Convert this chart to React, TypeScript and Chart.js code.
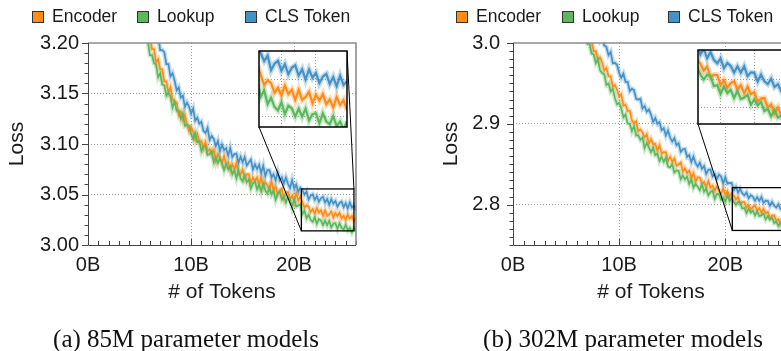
import React, { useEffect, useRef } from 'react';
import { Chart, registerables } from 'chart.js';

Chart.register(...registerables);

// Training progress, in billions of tokens seen
const tokensB = [
  5, 5.2, 5.4, 5.6, 5.8, 6, 6.2, 6.4, 6.6, 6.8,
  7, 7.2, 7.4, 7.6, 7.8, 8, 8.2, 8.4, 8.6, 8.8,
  9, 9.2, 9.4, 9.6, 9.8, 10, 10.2, 10.4, 10.6, 10.8,
  11, 11.2, 11.4, 11.6, 11.8, 12, 12.2, 12.4, 12.6, 12.8,
  13, 13.2, 13.4, 13.6, 13.8, 14, 14.2, 14.4, 14.6, 14.8,
  15, 15.2, 15.4, 15.6, 15.8, 16, 16.2, 16.4, 16.6, 16.8,
  17, 17.2, 17.4, 17.6, 17.8, 18, 18.2, 18.4, 18.6, 18.8,
  19, 19.2, 19.4, 19.6, 19.8, 20, 20.2, 20.4, 20.6, 20.8,
  21, 21.2, 21.4, 21.6, 21.8, 22, 22.2, 22.4, 22.6, 22.8,
  23, 23.2, 23.4, 23.6, 23.8, 24, 24.2, 24.4, 24.6, 24.8,
  25, 25.2, 25.4, 25.6, 25.8, 26,
];

// 85M parameter models: validation loss
const encoder85M = [
  3.238, 3.227, 3.227, 3.212, 3.211, 3.208, 3.194, 3.194, 3.181, 3.184,
  3.174, 3.174, 3.162, 3.162, 3.151, 3.156, 3.144, 3.142, 3.141, 3.129,
  3.132, 3.124, 3.129, 3.119, 3.113, 3.117, 3.112, 3.104, 3.110, 3.102,
  3.103, 3.095, 3.102, 3.093, 3.095, 3.090, 3.094, 3.083, 3.090, 3.086,
  3.081, 3.088, 3.079, 3.082, 3.074, 3.080, 3.075, 3.081, 3.070, 3.070,
  3.075, 3.066, 3.070, 3.070, 3.061, 3.067, 3.063, 3.067, 3.060, 3.067,
  3.057, 3.062, 3.059, 3.055, 3.063, 3.054, 3.058, 3.050, 3.054, 3.056,
  3.046, 3.052, 3.0524, 3.0456, 3.0488, 3.043, 3.0515, 3.044, 3.0483, 3.0423,
  3.037, 3.0395, 3.038, 3.0327, 3.0354, 3.0311, 3.0367, 3.032, 3.0343, 3.0288,
  3.0343, 3.0288, 3.0304, 3.0332, 3.027, 3.0317, 3.0285, 3.032, 3.0265, 3.029,
  3.0247, 3.0303, 3.026, 3.0287, 3.0233, 3.027,
];
const lookup85M = [
  3.220, 3.220, 3.206, 3.204, 3.202, 3.188, 3.188, 3.180, 3.179, 3.166,
  3.170, 3.159, 3.158, 3.148, 3.151, 3.147, 3.136, 3.142, 3.133, 3.133,
  3.125, 3.130, 3.118, 3.119, 3.118, 3.110, 3.105, 3.111, 3.102, 3.103,
  3.093, 3.098, 3.098, 3.089, 3.090, 3.093, 3.082, 3.087, 3.081, 3.086,
  3.081, 3.074, 3.080, 3.075, 3.078, 3.070, 3.074, 3.066, 3.074, 3.066,
  3.063, 3.069, 3.062, 3.065, 3.056, 3.061, 3.063, 3.055, 3.060, 3.053,
  3.061, 3.054, 3.051, 3.057, 3.050, 3.054, 3.045, 3.051, 3.053, 3.045,
  3.048, 3.042, 3.048, 3.045, 3.037, 3.045, 3.038, 3.039, 3.040, 3.0305,
  3.034, 3.0265, 3.030, 3.025, 3.023, 3.0275, 3.021, 3.0256, 3.0242, 3.0197,
  3.0241, 3.0196, 3.024, 3.0175, 3.021, 3.0215, 3.016, 3.0215, 3.017, 3.0155,
  3.020, 3.0145, 3.017, 3.0125, 3.017, 3.0135,
];
const cls85M = [
  3.258, 3.247, 3.248, 3.240, 3.227, 3.230, 3.218, 3.217, 3.206, 3.208,
  3.193, 3.193, 3.191, 3.179, 3.179, 3.167, 3.170, 3.163, 3.153, 3.156,
  3.146, 3.148, 3.137, 3.141, 3.137, 3.130, 3.135, 3.123, 3.126, 3.120,
  3.122, 3.113, 3.111, 3.116, 3.104, 3.108, 3.105, 3.098, 3.103, 3.093,
  3.0995, 3.094, 3.096, 3.0884, 3.096, 3.087, 3.090, 3.0906, 3.0814, 3.0873,
  3.0821, 3.087, 3.0788, 3.0816, 3.0846, 3.0748, 3.080, 3.0752, 3.0794, 3.0715,
  3.0784, 3.0683, 3.0742, 3.0742, 3.0671, 3.070, 3.064, 3.072, 3.064, 3.067,
  3.061, 3.0668, 3.0606, 3.0564, 3.0642, 3.056, 3.0599, 3.0527, 3.0566, 3.0543,
  3.050, 3.053, 3.045, 3.0486, 3.0501, 3.0447, 3.0483, 3.0428, 3.0463, 3.0477,
  3.0421, 3.0455, 3.0399, 3.0454, 3.0409, 3.0435, 3.038, 3.0415, 3.043, 3.0375,
  3.0413, 3.0362, 3.042, 3.037, 3.039, 3.034,
];

// 302M parameter models: validation loss
const encoder302M = [
  3.061, 3.051, 3.052, 3.046, 3.034, 3.038, 3.027, 3.026, 3.015, 3.018,
  3.004, 3.004, 3.002, 2.990, 2.990, 2.979, 2.982, 2.9755, 2.966, 2.969,
  2.9586, 2.9587, 2.9459, 2.948, 2.9422, 2.9334, 2.9365, 2.9227, 2.9238, 2.916,
  2.9161, 2.9043, 2.9004, 2.9032, 2.8906, 2.893, 2.8894, 2.8828, 2.8872, 2.8756,
  2.881, 2.8746, 2.8752, 2.8668, 2.8734, 2.863, 2.8648, 2.8646, 2.8544, 2.8592,
  2.853, 2.857, 2.848, 2.850, 2.852, 2.841, 2.845, 2.839, 2.842, 2.833,
  2.839, 2.8284, 2.8338, 2.8332, 2.8256, 2.828, 2.8216, 2.8292, 2.8208, 2.8234,
  2.817, 2.8228, 2.8166, 2.8124, 2.8202, 2.812, 2.8165, 2.8098, 2.8138, 2.8111,
  2.8062, 2.8092, 2.8013, 2.8032, 2.8031, 2.796, 2.7994, 2.7939, 2.7973, 2.7986,
  2.7927, 2.7958, 2.7899, 2.7948, 2.7893, 2.7908, 2.7841, 2.7864, 2.7866, 2.7799,
  2.782, 2.7755, 2.7798, 2.7742, 2.7756, 2.770,
];
const lookup302M = [
  3.059, 3.048, 3.049, 3.035, 3.035, 3.033, 3.019, 3.019, 3.006, 3.009,
  2.999, 2.999, 2.987, 2.986, 2.975, 2.980, 2.966, 2.963, 2.961, 2.948,
  2.950, 2.940, 2.943, 2.932, 2.924, 2.926, 2.919, 2.908, 2.9115, 2.9005,
  2.900, 2.891, 2.897, 2.8855, 2.886, 2.880, 2.883, 2.870, 2.8765, 2.871,
  2.865, 2.8706, 2.8612, 2.863, 2.854, 2.859, 2.853, 2.858, 2.847, 2.846,
  2.850, 2.8396, 2.8422, 2.8418, 2.8314, 2.836, 2.8312, 2.8344, 2.8256, 2.8318,
  2.821, 2.8256, 2.8222, 2.8178, 2.8254, 2.816, 2.8198, 2.8116, 2.8154, 2.8172,
  2.807, 2.813, 2.813, 2.806, 2.809, 2.803, 2.8116, 2.8042, 2.8087, 2.8034,
  2.7998, 2.8032, 2.8026, 2.7952, 2.7959, 2.7895, 2.7948, 2.7901, 2.7924, 2.7866,
  2.7917, 2.7858, 2.7869, 2.7889, 2.7818, 2.7856, 2.7813, 2.7838, 2.7773, 2.7788,
  2.7735, 2.778, 2.7725, 2.774, 2.7675, 2.770,
];
const cls302M = [
  3.089, 3.090, 3.078, 3.076, 3.075, 3.061, 3.062, 3.054, 3.052, 3.039,
  3.043, 3.032, 3.030, 3.019, 3.021, 3.015, 3.003, 3.007, 2.997, 2.995,
  2.985, 2.989, 2.975, 2.9755, 2.973, 2.963, 2.957, 2.962, 2.952, 2.952,
  2.9405, 2.9435, 2.9415, 2.931, 2.930, 2.931, 2.919, 2.922, 2.915, 2.9176,
  2.9115, 2.9024, 2.9072, 2.900, 2.902, 2.8922, 2.8944, 2.8856, 2.8918, 2.883,
  2.878, 2.8823, 2.8736, 2.8759, 2.8652, 2.8685, 2.8688, 2.8591, 2.8614, 2.8527,
  2.8595, 2.8513, 2.8471, 2.852, 2.8443, 2.8476, 2.8379, 2.8431, 2.8434, 2.8347,
  2.838, 2.8316, 2.8372, 2.8348, 2.8264, 2.834, 2.8259, 2.8268, 2.8266, 2.8177,
  2.8219, 2.815, 2.8195, 2.814, 2.8115, 2.815, 2.8079, 2.8117, 2.8096, 2.8048,
  2.8093, 2.8048, 2.8093, 2.8023, 2.805, 2.8047, 2.7985, 2.8035, 2.7985, 2.7965,
  2.8005, 2.7945, 2.7965, 2.7916, 2.7958, 2.792,
];

const seriesLabels = ['Encoder', 'Lookup', 'CLS Token'];
const seriesColors = ['#ff8c1a', '#5cb85c', '#4592c8'];

// Tick label values
const xLabelsB = [0, 10, 20];
const yLabels85M = [3.0, 3.05, 3.1, 3.15, 3.2];
const yLabels302M = [2.8, 2.9, 3.0];
const insetXGrid = [22, 24];
const insetYGrid85M = [3.02, 3.04];
const insetYGrid302M = [2.78, 2.8];

const SANS = '"Liberation Sans", Arial, Helvetica, sans-serif';
const SERIF = '"Liberation Serif", "Times New Roman", serif';
const INK = '#1a1a1a';
const GRID = '#9a9a9a';
const CLEAR = 'rgba(0,0,0,0)';
const TICK_SIZE = 20;
const TITLE_SIZE = 21;

// later datasets sit underneath: CLS on top, then Lookup, then Encoder
const drawOrder = [2, 1, 0];

type Rect = { left: number; top: number; width: number; height: number };
type Series = { label: string; color: string; values: number[] };
type Panel = {
  pageLeft: number;
  canvasWidth: number;
  canvasHeight: number;
  plotLeft: number;
  plotRight: number;
  plotTop: number;
  plotBottom: number;
  yMin: number;
  yMax: number;
  yLabels: number[];
  yDecimals: number;
  yTickPad: number;
  yTitlePad: number;
  zoom: { x0: number; x1: number; y0: number; y1: number };
  inset: Rect;
  insetYGrid: number[];
  legendBoxes: number[];
  caption: string;
  captionCenter: number;
  series: Series[];
};

const isIn = (list: number[], v: number) => list.some((m) => Math.abs(m - v) < 1e-6);

const withAlpha = (hex: string, a: number) => {
  const n = parseInt(hex.slice(1), 16);
  return `rgba(${(n >> 16) & 255},${(n >> 8) & 255},${n & 255},${a})`;
};

const makeSeries = (values: number[][]): Series[] =>
  seriesLabels.map((label, k) => ({ label, color: seriesColors[k], values: values[k] }));

const panels: Panel[] = [
  {
    pageLeft: 0,
    canvasWidth: 390,
    canvasHeight: 351,
    plotLeft: 88,
    plotRight: 356,
    plotTop: 43,
    plotBottom: 245,
    yMin: 3.0,
    yMax: 3.2,
    yLabels: yLabels85M,
    yDecimals: 2,
    yTickPad: 9,
    yTitlePad: 4.9,
    zoom: { x0: 20.7, x1: 25.8, y0: 3.014, y1: 3.0555 },
    inset: { left: 259, top: 51, width: 88, height: 76 },
    insetYGrid: insetYGrid85M,
    legendBoxes: [32, 137, 245],
    caption: '(a) 85M parameter models',
    captionCenter: 186,
    series: makeSeries([encoder85M, lookup85M, cls85M]),
  },
  {
    pageLeft: 390,
    canvasWidth: 440,
    canvasHeight: 351,
    plotLeft: 123,
    plotRight: 399,
    plotTop: 43,
    plotBottom: 245,
    yMin: 2.75,
    yMax: 3.0,
    yLabels: yLabels302M,
    yDecimals: 1,
    yTickPad: 13,
    yTitlePad: 48.9,
    zoom: { x0: 20.66, x1: 26, y0: 2.768, y1: 2.821 },
    inset: { left: 698, top: 50, width: 90, height: 74 },
    insetYGrid: insetYGrid302M,
    legendBoxes: [456, 562, 668],
    caption: '(b) 302M parameter models',
    captionCenter: 623,
    series: makeSeries([encoder302M, lookup302M, cls302M]),
  },
];

function lineDatasets(series: Series[], coreWidth: number, bandWidth: number) {
  const core = series.map((s, k) => ({
    label: s.label,
    data: s.values.map((v, i) => ({ x: tokensB[i], y: v })),
    borderColor: s.color,
    borderWidth: coreWidth,
    pointRadius: 0,
    tension: 0,
    clip: 0,
    order: drawOrder[k],
  }));
  const band = core.map((d, k) => ({
    ...d,
    label: `${d.label} spread`,
    borderColor: withAlpha(series[k].color, 0.32),
    borderWidth: bandWidth,
    order: 10 + drawOrder[k],
  }));
  return [...core, ...band];
}

function mainConfig(p: Panel): any {
  const insetL = p.inset.left - p.pageLeft;
  const insetR = insetL + p.inset.width;
  const insetT = p.inset.top;
  const insetB = p.inset.top + p.inset.height;

  const axesPlugin = {
    id: 'axesAndZoom',
    afterDatasetsDraw(chart: any) {
      const { ctx, chartArea: a } = chart;
      const x = chart.scales.x;
      const y = chart.scales.y;
      ctx.save();
      ctx.setLineDash([]);

      // tick marks: y ticks outward, x ticks inward
      ctx.strokeStyle = '#444';
      ctx.lineWidth = 1;
      ctx.beginPath();
      y.ticks.forEach((t: any) => {
        const py = Math.round(y.getPixelForValue(t.value)) + 0.5;
        const len = isIn(p.yLabels, t.value) ? 6 : 3.5;
        ctx.moveTo(a.left - len, py);
        ctx.lineTo(a.left, py);
      });
      x.ticks.forEach((t: any) => {
        const px = Math.round(x.getPixelForValue(t.value)) + 0.5;
        const len = isIn(xLabelsB, t.value) ? 6 : 4;
        ctx.moveTo(px, a.bottom);
        ctx.lineTo(px, a.bottom - len);
      });
      ctx.stroke();

      // frame
      ctx.strokeStyle = '#8c8c8c';
      ctx.lineWidth = 1.6;
      ctx.beginPath();
      ctx.moveTo(a.left, a.top);
      ctx.lineTo(a.right, a.top);
      ctx.lineTo(a.right, a.bottom);
      ctx.stroke();
      ctx.strokeStyle = '#444';
      ctx.lineWidth = 1;
      ctx.beginPath();
      ctx.moveTo(a.left + 0.5, a.top);
      ctx.lineTo(a.left + 0.5, a.bottom + 0.5);
      ctx.lineTo(a.right, a.bottom + 0.5);
      ctx.stroke();

      // zoomed window and its connectors to the inset
      const zx0 = x.getPixelForValue(p.zoom.x0);
      const zx1 = x.getPixelForValue(p.zoom.x1);
      const zyTop = y.getPixelForValue(p.zoom.y1);
      const zyBot = y.getPixelForValue(p.zoom.y0);
      ctx.strokeStyle = '#000';
      ctx.lineWidth = 1.3;
      ctx.strokeRect(zx0, zyTop, zx1 - zx0, zyBot - zyTop);
      ctx.lineWidth = 1;
      ctx.beginPath();
      ctx.moveTo(zx0, zyBot);
      ctx.lineTo(insetL, insetB);
      ctx.moveTo(zx1, zyTop);
      ctx.lineTo(insetR, insetT);
      ctx.stroke();
      ctx.restore();
    },
  };

  return {
    type: 'line',
    data: { datasets: lineDatasets(p.series, 1.7, 4.5) },
    options: {
      responsive: false,
      animation: false,
      events: [],
      layout: {
        padding: { left: 0, top: p.plotTop, right: p.canvasWidth - p.plotRight, bottom: 0 },
      },
      plugins: { legend: { display: false }, tooltip: { enabled: false } },
      scales: {
        x: {
          type: 'linear',
          min: 0,
          max: 26,
          afterFit: (s: any) => {
            s.height = p.canvasHeight - p.plotBottom;
          },
          ticks: {
            stepSize: 1,
            autoSkip: false,
            maxRotation: 0,
            padding: 8,
            color: INK,
            font: { family: SANS, size: TICK_SIZE },
            callback: (v: any) => (isIn(xLabelsB, Number(v)) ? `${v}B` : ''),
          },
          grid: {
            drawTicks: false,
            lineWidth: 1,
            color: (c: any) =>
              c.tick && c.tick.value > 0 && isIn(xLabelsB, c.tick.value) ? GRID : CLEAR,
          },
          border: { display: false, dash: [1, 2] },
          title: {
            display: true,
            text: '# of Tokens',
            color: INK,
            font: { family: SANS, size: TITLE_SIZE },
            padding: { top: 0, bottom: 46.4 },
          },
        },
        y: {
          type: 'linear',
          min: p.yMin,
          max: p.yMax,
          afterFit: (s: any) => {
            s.width = p.plotLeft;
          },
          ticks: {
            stepSize: 0.01,
            autoSkip: false,
            padding: p.yTickPad,
            color: INK,
            font: { family: SANS, size: TICK_SIZE },
            callback: (v: any) =>
              isIn(p.yLabels, Number(v)) ? Number(v).toFixed(p.yDecimals) : '',
          },
          grid: {
            drawTicks: false,
            lineWidth: 1,
            color: (c: any) =>
              c.tick &&
              isIn(p.yLabels, c.tick.value) &&
              c.tick.value > p.yMin + 1e-6 &&
              c.tick.value < p.yMax - 1e-6
                ? GRID
                : CLEAR,
          },
          border: { display: false, dash: [1, 2] },
          title: {
            display: true,
            text: 'Loss',
            color: INK,
            font: { family: SANS, size: TITLE_SIZE },
            padding: { top: p.yTitlePad, bottom: 0 },
          },
        },
      },
    },
    plugins: [axesPlugin],
  };
}

function insetConfig(p: Panel): any {
  const insetPaint = {
    id: 'insetPaint',
    beforeDraw(chart: any) {
      const { ctx, chartArea: a } = chart;
      ctx.save();
      ctx.fillStyle = '#fff';
      ctx.fillRect(a.left, a.top, a.right - a.left, a.bottom - a.top);
      ctx.restore();
    },
    afterDraw(chart: any) {
      const { ctx, chartArea: a } = chart;
      ctx.save();
      ctx.setLineDash([]);
      ctx.strokeStyle = '#000';
      ctx.lineWidth = 1.5;
      ctx.strokeRect(a.left, a.top, a.right - a.left, a.bottom - a.top);
      ctx.restore();
    },
  };
  const hiddenAxis = (grid: number[], horizontal: boolean) => ({
    type: 'linear',
    ticks: { display: false },
    afterBuildTicks: (s: any) => {
      s.ticks = grid.map((v) => ({ value: v }));
    },
    afterFit: (s: any) => {
      if (horizontal) s.height = 0;
      else s.width = 0;
    },
    grid: { drawTicks: false, lineWidth: 1, color: GRID },
    border: { display: false, dash: [1, 2] },
  });
  return {
    type: 'line',
    data: { datasets: lineDatasets(p.series, 2.2, 5.5) },
    options: {
      responsive: false,
      animation: false,
      events: [],
      layout: { padding: 2 },
      plugins: { legend: { display: false }, tooltip: { enabled: false } },
      scales: {
        x: { ...hiddenAxis(insetXGrid, true), min: p.zoom.x0, max: p.zoom.x1 },
        y: { ...hiddenAxis(p.insetYGrid, false), min: p.zoom.y0, max: p.zoom.y1 },
      },
    },
    plugins: [insetPaint],
  };
}

function LossPanel({ p }: { p: Panel }) {
  const mainRef = useRef<HTMLCanvasElement>(null);
  const insetRef = useRef<HTMLCanvasElement>(null);

  useEffect(() => {
    if (!mainRef.current || !insetRef.current) return;
    const main = new Chart(mainRef.current, mainConfig(p));
    const inset = new Chart(insetRef.current, insetConfig(p));
    return () => {
      main.destroy();
      inset.destroy();
    };
  }, [p]);

  return (
    <>
      <canvas
        ref={mainRef}
        width={p.canvasWidth}
        height={p.canvasHeight}
        style={{ position: 'absolute', left: p.pageLeft, top: 0 }}
      />
      <canvas
        ref={insetRef}
        width={p.inset.width + 4}
        height={p.inset.height + 4}
        style={{ position: 'absolute', left: p.inset.left - 2, top: p.inset.top - 2 }}
      />
      {p.series.map((s, k) => (
        <React.Fragment key={s.label}>
          <div
            style={{
              position: 'absolute',
              left: p.legendBoxes[k],
              top: 11,
              width: 12,
              height: 12,
              boxSizing: 'border-box',
              border: '1px solid #333',
              background: s.color,
            }}
          />
          <div
            style={{
              position: 'absolute',
              left: p.legendBoxes[k] + 20,
              top: 7,
              font: `17.5px ${SANS}`,
              lineHeight: '19px',
              color: INK,
              whiteSpace: 'nowrap',
            }}
          >
            {s.label}
          </div>
        </React.Fragment>
      ))}
      <div
        style={{
          position: 'absolute',
          left: p.captionCenter - 200,
          width: 400,
          top: 326,
          textAlign: 'center',
          font: `25px ${SERIF}`,
          lineHeight: '26px',
          color: '#111',
          whiteSpace: 'nowrap',
        }}
      >
        {p.caption}
      </div>
    </>
  );
}

export default function App() {
  return (
    <div
      style={{
        position: 'absolute',
        left: 0,
        top: 0,
        width: 781,
        height: 351,
        overflow: 'hidden',
        background: '#fff',
      }}
    >
      {panels.map((p) => (
        <LossPanel key={p.caption} p={p} />
      ))}
    </div>
  );
}
